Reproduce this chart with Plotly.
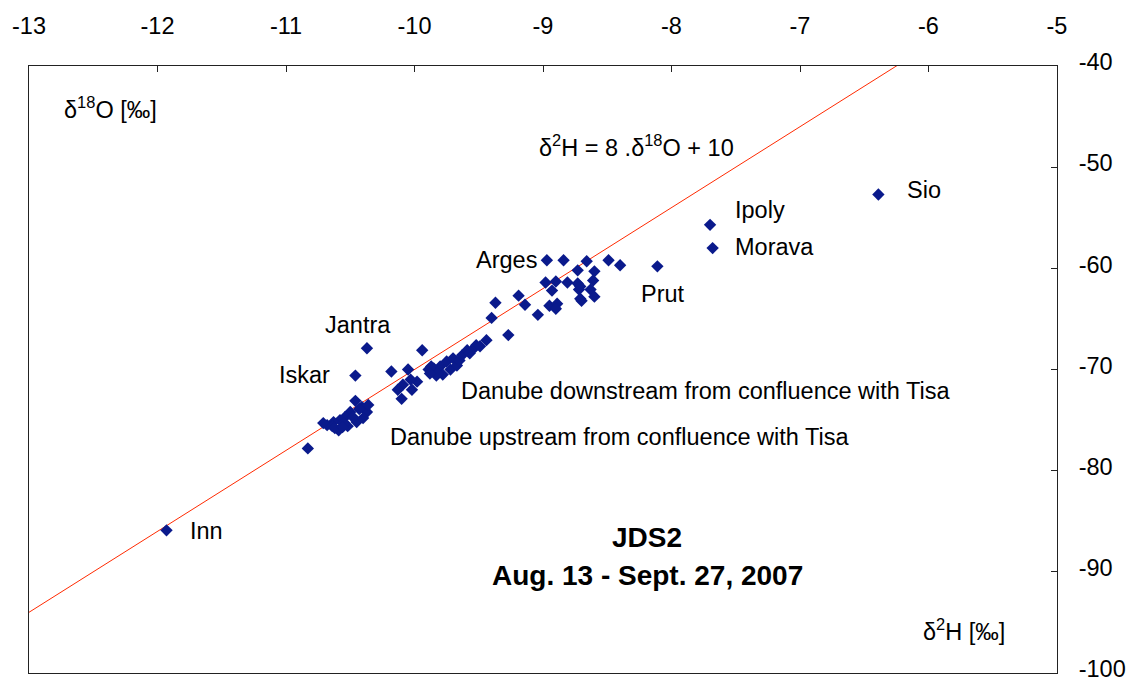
import plotly.graph_objects as go

# Sample isotope values (delta-18O, delta-2H), per mil
d18o = [
    -11.93, -6.39, -7.70, -7.68, -8.11, -10.37, -10.46, -10.83,
    # Danube upstream from confluence with Tisa
    -10.46, -10.41, -10.37, -10.50, -10.54, -10.58, -10.63, -10.68, -10.71, -10.64,
    -10.59, -10.52, -10.45, -10.40, -10.48, -10.55, -10.43, -10.62, -10.56, -10.36,
    # tributaries / middle reach
    -10.18, -10.05, -9.98, -10.03, -10.09, -10.13, -10.10, -10.02, -9.94,
    # Danube downstream from confluence with Tisa
    -9.89, -9.85, -9.83, -9.80, -9.78, -9.75, -9.72, -9.70, -9.67, -9.65,
    -9.63, -9.59, -9.57, -9.53, -9.52, -9.49, -9.44, -9.87, -9.82, -9.88,
    # lower Danube and eastern tributaries
    -9.40, -9.37, -9.27, -9.19, -9.14, -9.04, -8.97, -8.84, -8.66, -8.49,
    -8.40, -8.73, -8.60, -8.98, -8.90, -8.81, -8.73, -8.61, -8.93, -8.72,
    -8.63, -8.95, -8.89, -8.90, -8.70, -8.60, -8.71, -8.71,
]
d2h = [
    -85.9, -52.7, -55.7, -58.0, -59.8, -67.9, -70.6, -77.8,
    -73.1, -73.7, -74.2, -74.2, -74.7, -75.0, -75.2, -75.5, -75.3, -75.6,
    -76.0, -75.6, -75.2, -74.8, -74.7, -75.3, -73.9, -75.8, -75.7, -73.5,
    -70.2, -70.0, -71.2, -71.0, -71.5, -72.0, -72.9, -72.0, -68.1,
    -70.0, -69.9, -70.6, -69.7, -70.5, -69.2, -70.0, -68.9, -69.6, -69.1,
    -68.6, -68.1, -68.4, -67.8, -67.6, -67.7, -67.1, -69.7, -70.4, -70.4,
    -64.9, -63.4, -66.6, -62.7, -63.6, -64.6, -59.2, -59.2, -59.3, -59.2,
    -59.7, -60.2, -60.3, -61.4, -61.3, -61.4, -61.5, -61.2, -62.2, -62.1,
    -62.1, -63.7, -63.5, -64.0, -63.2, -62.8, -61.8, -63.0,
]

# Global meteoric water line: d2H = 8 * d18O + 10
gmwl_slope = 8
gmwl_intercept = 10
gmwl_x = [-13, -5]
gmwl_y = [gmwl_slope * v + gmwl_intercept for v in gmwl_x]

x_ticks = [-13, -12, -11, -10, -9, -8, -7, -6, -5]
x_tick_text = ["-13", "-12", "-11", "-10", "-9", "-8", "-7", "-6", "-5"]
y_ticks = [-100, -90, -80, -70, -60, -50, -40]
y_tick_text = ["-100", "-90", "-80", "-70", "-60", "-50", "-40"]

# River labels: (text, d18O of left edge, d2H)
site_labels = [
    ("Sio", -6.18, -52.3),
    ("Ipoly", -7.52, -54.2),
    ("Morava", -7.52, -57.9),
    ("Arges", -9.54, -59.2),
    ("Prut", -8.25, -62.5),
    ("Jantra", -10.71, -65.6),
    ("Iskar", -11.07, -70.5),
    ("Inn", -11.76, -86.0),
    ("Danube downstream from confluence with Tisa", -9.65, -72.1),
    ("Danube upstream from confluence with Tisa", -10.21, -76.7),
]

FONT = "Liberation Sans, Arial, sans-serif"
TXT = 23.5

fig = go.Figure()

fig.add_trace(go.Scatter(
    x=gmwl_x, y=gmwl_y, mode="lines",
    line=dict(color="#ff2a00", width=1),
    hoverinfo="skip", showlegend=False,
))

fig.add_trace(go.Scatter(
    x=d18o, y=d2h, mode="markers",
    marker=dict(symbol="diamond", size=9.5, color="#0a1a8c",
                line=dict(width=0)),
    showlegend=False,
))

annotations = []
for text, x, y in site_labels:
    annotations.append(dict(x=x, y=y, text=text, showarrow=False,
                            xanchor="left", yanchor="middle",
                            font=dict(size=TXT, color="#000", family=FONT)))

annotations += [
    dict(x=-12.74, y=-44.2, text="δ<sup>18</sup>O [‰]",
         xanchor="left", yanchor="middle", showarrow=False,
         font=dict(size=TXT, color="#000", family=FONT)),
    dict(x=-9.05, y=-47.9, text="δ<sup>2</sup>H = 8 .δ<sup>18</sup>O + 10",
         xanchor="left", yanchor="middle", showarrow=False,
         font=dict(size=TXT, color="#000", family=FONT)),
    dict(x=-6.06, y=-95.7, text="δ<sup>2</sup>H [‰]",
         xanchor="left", yanchor="middle", showarrow=False,
         font=dict(size=TXT, color="#000", family=FONT)),
    dict(x=-8.19, y=-86.65, text="<b>JDS2</b>",
         xanchor="center", yanchor="middle", showarrow=False,
         font=dict(size=28, color="#000", family=FONT)),
    dict(x=-8.19, y=-90.4, text="<b>Aug. 13 - Sept. 27, 2007</b>",
         xanchor="center", yanchor="middle", showarrow=False,
         font=dict(size=28, color="#000", family=FONT)),
]

fig.update_layout(
    width=1127, height=682,
    margin=dict(l=29, r=70, t=66, b=9, autoexpand=False),
    paper_bgcolor="white", plot_bgcolor="white",
    font=dict(family=FONT, size=TXT, color="#000"),
    annotations=annotations,
    xaxis=dict(
        range=[-13, -5], side="top", tickvals=x_ticks, ticktext=x_tick_text,
        ticks="inside", ticklen=6, tickcolor="#222", automargin=False,
        showline=True, linecolor="#222", linewidth=1, mirror=True,
        showgrid=False, zeroline=False, ticklabelstandoff=22,
        ticklabeloverflow="allow", tickfont=dict(size=TXT),
    ),
    yaxis=dict(
        range=[-100, -40], side="right", tickvals=y_ticks, ticktext=y_tick_text,
        ticks="inside", ticklen=6, tickcolor="#222", automargin=False,
        showline=True, linecolor="#222", linewidth=1, mirror=True,
        showgrid=False, zeroline=False, ticklabelstandoff=16,
        ticklabelshift=-4,
        ticklabeloverflow="allow", tickfont=dict(size=TXT),
    ),
)

fig.write_html("out.html")
